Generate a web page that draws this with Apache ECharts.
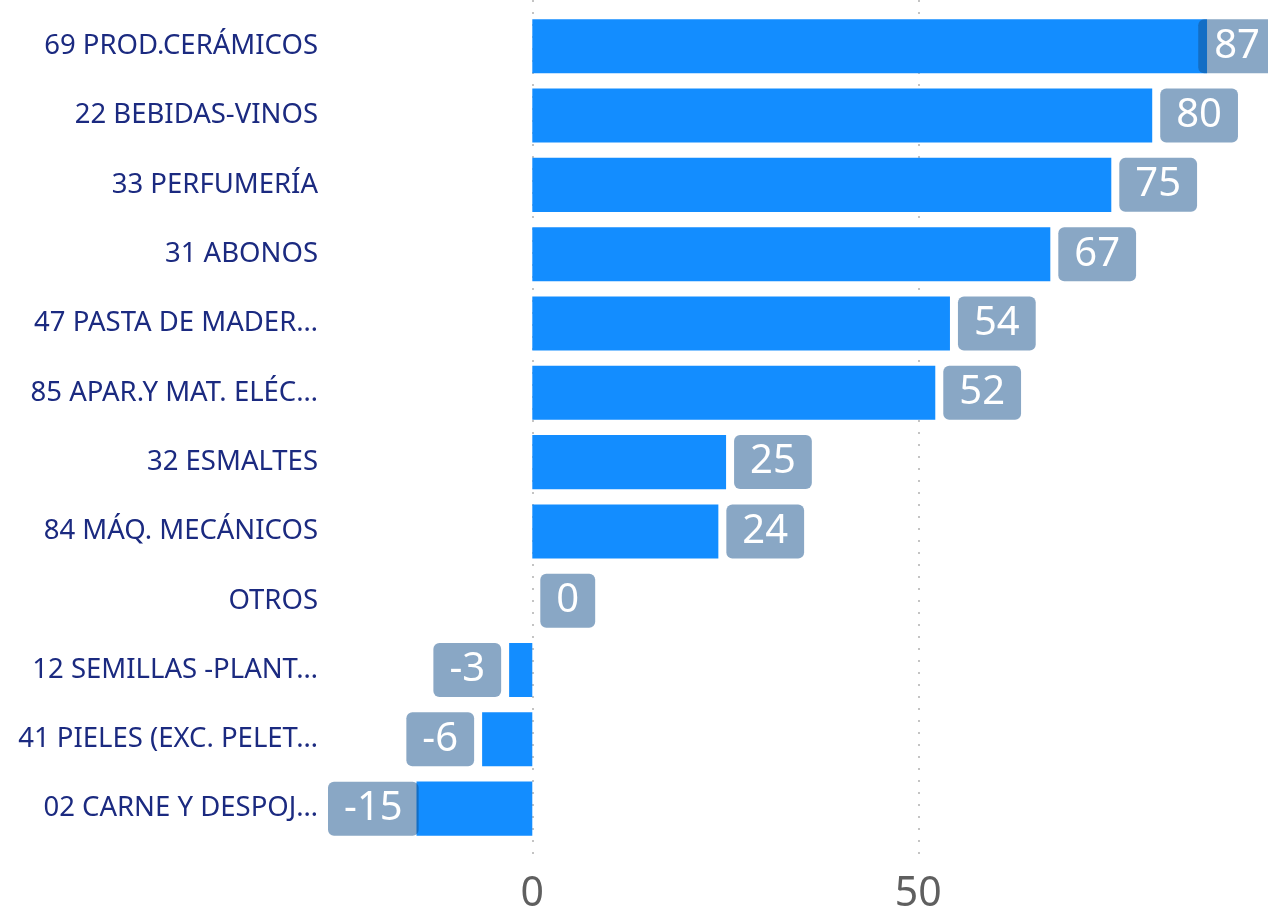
<!DOCTYPE html>
<html>
<head>
<meta charset="utf-8">
<script src="https://cdn.jsdelivr.net/npm/echarts@6/dist/echarts.min.js"></script>
<style>
html,body{margin:0;padding:0;background:#fff;}
#chart{width:1268px;height:915px;}
</style>
</head>
<body>
<div id="chart"></div>
<script>
const categories = [
  "69 PROD.CERÁMICOS",
  "22 BEBIDAS-VINOS",
  "33 PERFUMERÍA",
  "31 ABONOS",
  "47 PASTA DE MADER…",
  "85 APAR.Y MAT. ELÉC…",
  "32 ESMALTES",
  "84 MÁQ. MECÁNICOS",
  "OTROS",
  "12 SEMILLAS -PLANT…",
  "41 PIELES (EXC. PELET…",
  "02 CARNE Y DESPOJ…"
];
const values = [87.4, 80.3, 75, 67.1, 54.1, 52.2, 25.1, 24.1, 0, -3, -6.5, -15];
const tickValues = [0, 50];

const W = 1268, GRID_LEFT = 328;
const PX_PER_UNIT = (918.3 - 532.3) / 50;
const xMin = -(532.3 - GRID_LEFT) / PX_PER_UNIT;
const xMax = (W - 532.3) / PX_PER_UNIT;

const chart = echarts.init(document.getElementById('chart'), null, {renderer: 'canvas'});
const FONT = '"Noto Sans", "Open Sans", sans-serif';

chart.setOption({
  animation: false,
  grid: [
    {left: GRID_LEFT, right: 0, top: 11.6, height: 831.7, containLabel: false},
    {left: GRID_LEFT, right: 0, top: 0, height: 864, containLabel: false}
  ],
  xAxis: [
    {
      type: 'value', gridIndex: 0, min: xMin, max: xMax,
      axisLine: {show: false}, axisTick: {show: false},
      axisLabel: {show: false}, splitLine: {show: false}
    },
    {
      type: 'value', gridIndex: 1, min: xMin, max: xMax,
      axisLine: {show: false},
      axisTick: {show: false, customValues: tickValues},
      axisLabel: {
        customValues: tickValues, color: '#5f5f5f', fontSize: 41,
        fontFamily: FONT, margin: 12
      },
      splitLine: {show: true, lineStyle: {color: '#c4c4c4', width: 2, type: [2, 10]}}
    }
  ],
  yAxis: [
    {
      type: 'category', gridIndex: 0, data: categories, inverse: true,
      axisLine: {show: false}, axisTick: {show: false},
      axisLabel: {color: '#1b2a80', fontSize: 27.5, fontFamily: FONT, margin: 10}
    },
    {
      type: 'category', gridIndex: 1, data: categories, inverse: true, show: false
    }
  ],
  series: [{
    type: 'bar',
    xAxisIndex: 0, yAxisIndex: 0,
    barCategoryGap: '22%',
    itemStyle: {color: '#138dff'},
    data: values.map(v => ({
      value: v,
      label: {position: v >= 0 ? 'right' : 'left'}
    })),
    label: {
      show: true,
      distance: 8,
      formatter: p => String(Math.round(p.value)),
      color: '#ffffff',
      fontSize: 40,
      fontFamily: FONT,
      lineHeight: 44,
      backgroundColor: 'rgba(20,80,140,0.5)',
      borderRadius: 6,
      padding: [9, 16, 1, 16]
    },
    labelLayout: function (p) {
      const r = p.labelRect;
      let dx = 0;
      if (r.x + r.width > W + 8) dx = W + 8 - (r.x + r.width);
      if (r.x + dx < GRID_LEFT) dx = GRID_LEFT - r.x;
      return {dx: dx};
    }
  }]
});
</script>
</body>
</html>
